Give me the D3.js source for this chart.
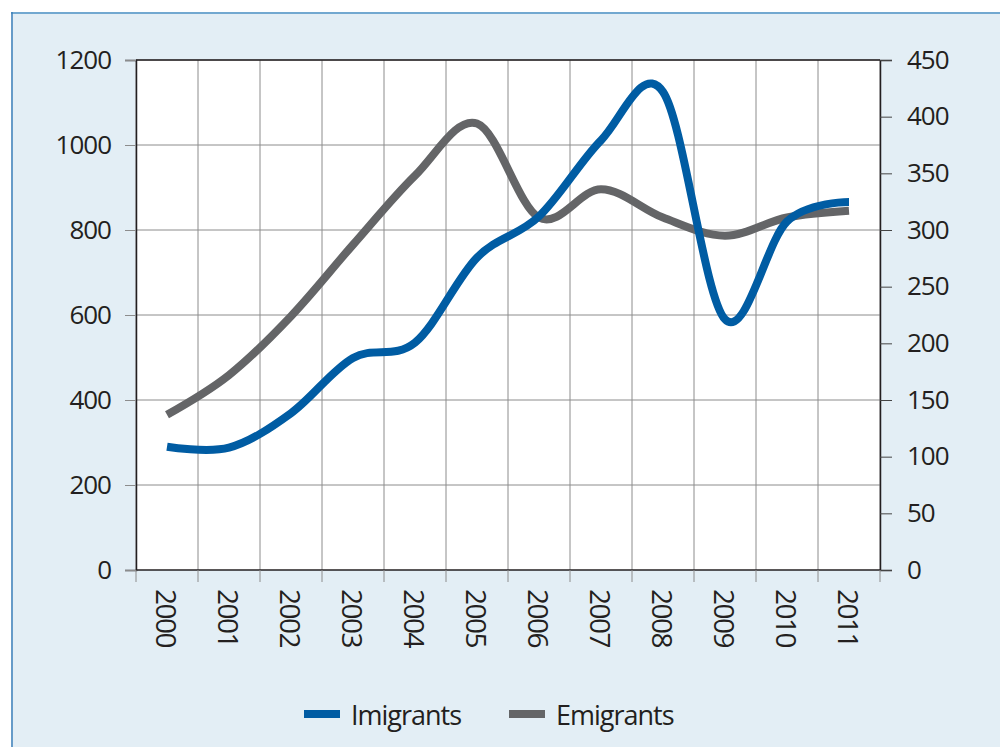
<!DOCTYPE html>
<html>
<head>
<meta charset="utf-8">
<script src="https://cdn.jsdelivr.net/npm/d3@7"></script>
<style>
  html, body { margin: 0; padding: 0; background: #ffffff; }
  svg { display: block; }
  text { font-family: "Open Sans", "Noto Sans", sans-serif; fill: #231f20; }
</style>
</head>
<body>
<svg id="chart" width="1000" height="747"></svg>
<script>
// Yearly flows, 2000–2011
const years = ["2000","2001","2002","2003","2004","2005","2006","2007","2008","2009","2010","2011"];
const immigrants = [290, 288, 369, 499, 535, 735, 832, 1011, 1125, 590, 820, 866];   // left axis
const emigrants  = [137, 172, 224, 287, 348, 394, 311, 336, 311, 295, 311, 317];     // right axis
const leftTicks  = [0, 200, 400, 600, 800, 1000, 1200];
const rightTicks = [0, 50, 100, 150, 200, 250, 300, 350, 400, 450];
const seriesNames = ["Imigrants", "Emigrants"];

const svg = d3.select("#chart");
const W = 1000, H = 747;
const plot = { left: 136, right: 880, top: 60, bottom: 570 };

// panel background with top/left rule
svg.append("rect").attr("x", 11).attr("y", 12).attr("width", W - 11).attr("height", H - 12)
  .attr("fill", "#e3eef5");
svg.append("line").attr("x1", 11).attr("x2", W).attr("y1", 13).attr("y2", 13)
  .attr("stroke", "#72a8d0").attr("stroke-width", 2);
svg.append("line").attr("x1", 12).attr("x2", 12).attr("y1", 12).attr("y2", H)
  .attr("stroke", "#3d7fb8").attr("stroke-width", 1.5);

const x = d3.scaleBand().domain(years).range([plot.left, plot.right]).padding(0);
const yL = d3.scaleLinear().domain([0, 1200]).range([plot.bottom, plot.top]);
const yR = d3.scaleLinear().domain([0, 450]).range([plot.bottom, plot.top]);
const cx = d => x(d) + x.bandwidth() / 2;

// plot area
svg.append("rect").attr("x", plot.left).attr("y", plot.top)
  .attr("width", plot.right - plot.left).attr("height", plot.bottom - plot.top)
  .attr("fill", "#ffffff");

// grid
const grid = svg.append("g").attr("stroke", "#8c8c8c").attr("stroke-width", 1);
const bounds = years.map(d => x(d)).concat([plot.right]);
grid.selectAll("line.v").data(bounds).enter().append("line")
  .attr("x1", d => d).attr("x2", d => d).attr("y1", plot.top).attr("y2", plot.bottom);
grid.selectAll("line.h").data(leftTicks.slice(1)).enter().append("line")
  .attr("x1", plot.left).attr("x2", plot.right)
  .attr("y1", d => yL(d)).attr("y2", d => yL(d));

const tickFont = sel => sel.style("font-size", "26px").style("letter-spacing", "-1px")
  .attr("font-family", null).attr("fill", "#231f20");

// left axis
const axL = svg.append("g").attr("transform", `translate(${plot.left},0)`)
  .call(d3.axisLeft(yL).tickValues(leftTicks).tickFormat(d3.format("d")).tickSize(11).tickPadding(14));
axL.select(".domain").attr("stroke", "#231f20").attr("stroke-width", 1.5);
axL.selectAll(".tick line").attr("stroke", "#8c8c8c");
axL.selectAll(".tick text").call(tickFont);

// right axis
const axR = svg.append("g").attr("transform", `translate(${plot.right},0)`)
  .call(d3.axisRight(yR).tickValues(rightTicks).tickFormat(d3.format("d")).tickSize(12).tickPadding(15));
axR.select(".domain").attr("stroke", "#231f20").attr("stroke-width", 1.5);
axR.selectAll(".tick line").attr("stroke", "#444");
axR.selectAll(".tick text").call(tickFont);

// bottom axis: ticks on band boundaries, labels rotated in band centres
const axB = svg.append("g").attr("transform", `translate(0,${plot.bottom})`);
axB.append("line").attr("x1", plot.left).attr("x2", plot.right).attr("y1", 0).attr("y2", 0)
  .attr("stroke", "#231f20").attr("stroke-width", 1.5);
axB.selectAll("line.t").data(bounds).enter().append("line")
  .attr("x1", d => d).attr("x2", d => d).attr("y1", 0).attr("y2", 12)
  .attr("stroke", "#8c8c8c");
axB.selectAll("text").data(years).enter().append("text")
  .attr("transform", d => `translate(${cx(d)},19) rotate(90)`)
  .attr("dominant-baseline", "central")
  .style("font-size", "28px").style("letter-spacing", "-1.5px")
  .text(d => d);

// plot frame top
svg.append("line").attr("x1", plot.left).attr("x2", plot.right)
  .attr("y1", plot.top).attr("y2", plot.top).attr("stroke", "#231f20").attr("stroke-width", 1.5);

// series
const colors = ["#005ca3", "#646567"];
const curve = d3.curveCardinal.tension(0);
const lineL = d3.line().x((d, i) => cx(years[i])).y(d => yL(d)).curve(curve);
const lineR = d3.line().x((d, i) => cx(years[i])).y(d => yR(d)).curve(curve);

svg.append("path").datum(emigrants).attr("d", lineR)
  .attr("fill", "none").attr("stroke", colors[1]).attr("stroke-width", 8);
svg.append("path").datum(immigrants).attr("d", lineL)
  .attr("fill", "none").attr("stroke", colors[0]).attr("stroke-width", 8);

// legend
const legend = svg.append("g");
const legendX = [304, 509];
seriesNames.forEach((name, i) => {
  legend.append("line").attr("x1", legendX[i]).attr("x2", legendX[i] + 36)
    .attr("y1", 714).attr("y2", 714).attr("stroke", colors[i]).attr("stroke-width", 8);
  legend.append("text").attr("x", legendX[i] + 47).attr("y", 725)
    .style("font-size", "27px").style("letter-spacing", "-1px").text(name);
});
</script>
</body>
</html>
